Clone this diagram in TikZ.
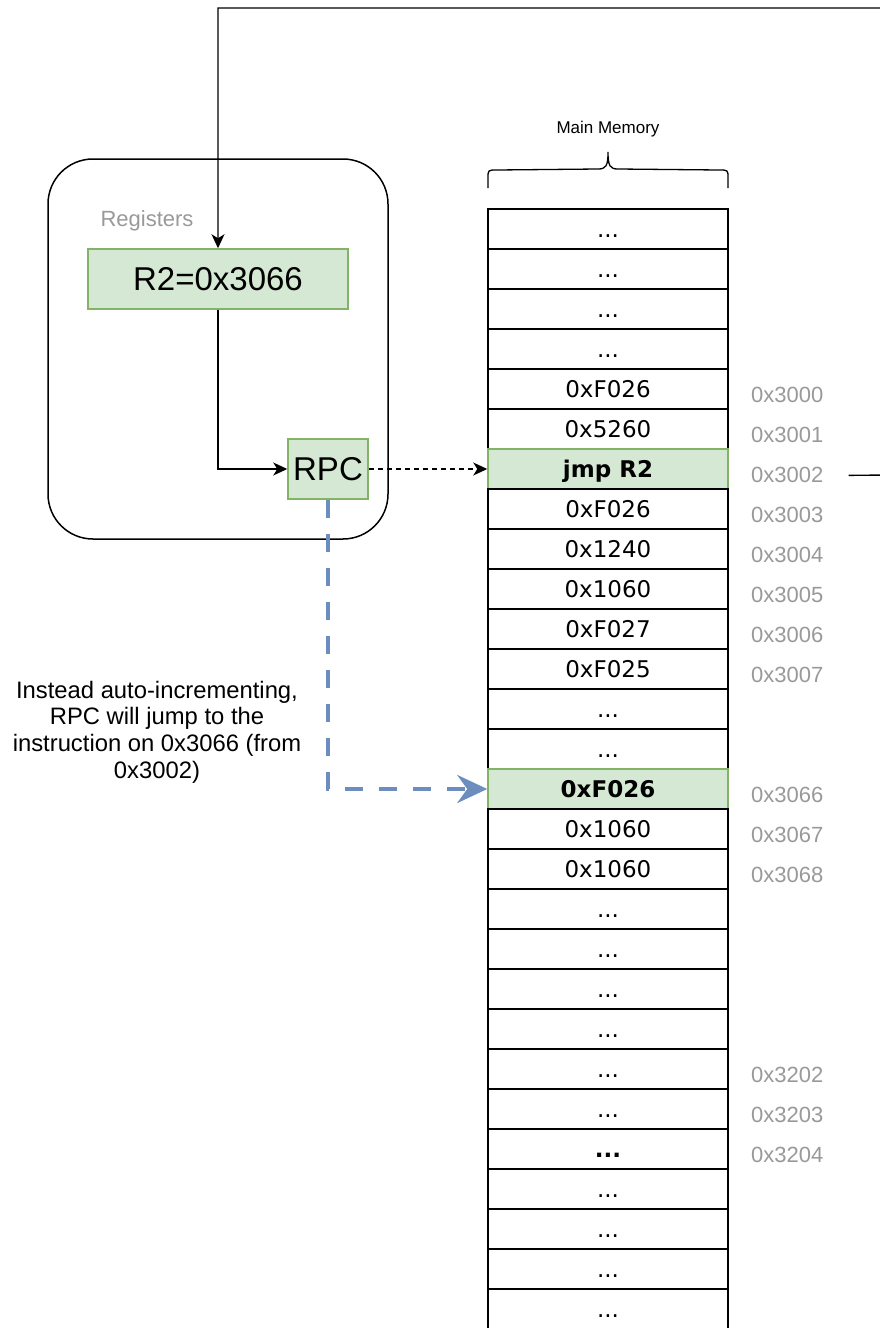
\documentclass[tikz,border=0pt]{standalone}
\usepackage{fontspec}
\setmainfont{Liberation Sans}
\newfontfamily\cellfont{DejaVu Sans}
\usetikzlibrary{arrows.meta}
\definecolor{gfill}{HTML}{D5E8D4}
\definecolor{gline}{HTML}{82B366}
\definecolor{bline}{HTML}{6C8EBF}
\definecolor{addrgray}{HTML}{999999}
\begin{document}
\begin{tikzpicture}[x=1pt,y=-1pt,
  cell/.style={draw=black, line width=1.5pt, minimum width=240pt, minimum height=40pt, inner sep=0pt,
    font=\cellfont\fontsize{23}{27}\selectfont, text height=16.8pt, text depth=0pt},
  hcell/.style={cell, fill=gfill, draw=gline, font=\cellfont\bfseries\fontsize{23}{27}\selectfont},
  bcell/.style={cell, font=\cellfont\bfseries\fontsize{23}{27}\selectfont},
  addr/.style={anchor=base west, inner sep=0pt, text=addrgray, font=\fontsize{22}{26}\selectfont},
  reg/.style={draw=gline, fill=gfill, line width=1.5pt, inner sep=0pt, font=\fontsize{33}{38}\selectfont},
  conn/.style={line width=1.4pt, -{Stealth[length=14pt,width=13pt,inset=4pt]}},
  jumpconn/.style={draw=bline, line width=4pt, dash pattern=on 18pt off 16pt, -{Stealth[length=30pt,width=28pt,inset=10pt]}}
]
\useasboundingbox (0,0) rectangle (880,1328);

% registers container
\draw[line width=1.5pt, rounded corners=45pt] (48,159) rectangle (388,539);
\node[text=addrgray, font=\fontsize{22}{26}\selectfont] (reglbl) at (147,221) {Registers};
\node[reg, minimum width=260pt, minimum height=60pt] (r2) at (218,279) {R2=0x3066};
\node[reg, minimum width=80pt, minimum height=60pt] (rpc) at (328,469) {RPC};

% main memory label and brace
\node[font=\fontsize{17}{20}\selectfont] (mmlbl) at (608,129) {Main Memory};
\draw[line width=1.3pt] (488,188) -- (488,178) .. controls (488,170) .. (497,170) -- (598,169)
  .. controls (606,169) and (608,166) .. (608,152)
  .. controls (608,166) and (610,169) .. (618,169) -- (719,170)
  .. controls (728,170) .. (728,178) -- (728,188);

% memory cells
\node[cell] (m0) at (608,229) {...};
\node[cell] (m1) at (608,269) {...};
\node[cell] (m2) at (608,309) {...};
\node[cell] (m3) at (608,349) {...};
\node[cell] (m4) at (608,389) {0xF026};
\node[cell] (m5) at (608,429) {0x5260};
\node[hcell] (m6) at (608,469) {jmp R2};
\node[cell] (m7) at (608,509) {0xF026};
\node[cell] (m8) at (608,549) {0x1240};
\node[cell] (m9) at (608,589) {0x1060};
\node[cell] (m10) at (608,629) {0xF027};
\node[cell] (m11) at (608,669) {0xF025};
\node[cell] (m12) at (608,709) {...};
\node[cell] (m13) at (608,749) {...};
\node[hcell] (m14) at (608,789) {0xF026};
\node[cell] (m15) at (608,829) {0x1060};
\node[cell] (m16) at (608,869) {0x1060};
\node[cell] (m17) at (608,909) {...};
\node[cell] (m18) at (608,949) {...};
\node[cell] (m19) at (608,989) {...};
\node[cell] (m20) at (608,1029) {...};
\node[cell] (m21) at (608,1069) {...};
\node[cell] (m22) at (608,1109) {...};
\node[bcell] (m23) at (608,1149) {...};
\node[cell] (m24) at (608,1189) {...};
\node[cell] (m25) at (608,1229) {...};
\node[cell] (m26) at (608,1269) {...};
\node[cell] (m27) at (608,1309) {...};

% address labels
\node[addr] (a3000) at (751,402.9) {0x3000};
\node[addr] (a3001) at (751,442.9) {0x3001};
\node[addr] (a3002) at (751,482.9) {0x3002};
\node[addr] (a3003) at (751,522.9) {0x3003};
\node[addr] (a3004) at (751,562.9) {0x3004};
\node[addr] (a3005) at (751,602.9) {0x3005};
\node[addr] (a3006) at (751,642.9) {0x3006};
\node[addr] (a3007) at (751,682.9) {0x3007};
\node[addr] (a3066) at (751,802.9) {0x3066};
\node[addr] (a3067) at (751,842.9) {0x3067};
\node[addr] (a3068) at (751,882.9) {0x3068};
\node[addr] (a3202) at (751,1082.9) {0x3202};
\node[addr] (a3203) at (751,1122.9) {0x3203};
\node[addr] (a3204) at (751,1162.9) {0x3204};

% explanation text
\node[align=center, font=\fontsize{23.8}{26.7}\selectfont, inner sep=0pt] (expl) at (157,732)
  {Instead auto-incrementing,\\RPC will jump to the\\instruction on 0x3066 (from\\0x3002)};

% connectors
\coordinate (loopstart) at ([xshift=25pt]a3002.east);
\draw[conn] (loopstart) -- (900,475) -- (900,8) -| (r2.north);
\draw[conn] (r2.south) |- (rpc.west);
\draw[conn, dash pattern=on 5pt off 4pt] (rpc.east) -- (m6.west);
\draw[jumpconn] (rpc.south) |- (m14.west);
\end{tikzpicture}
\end{document}
